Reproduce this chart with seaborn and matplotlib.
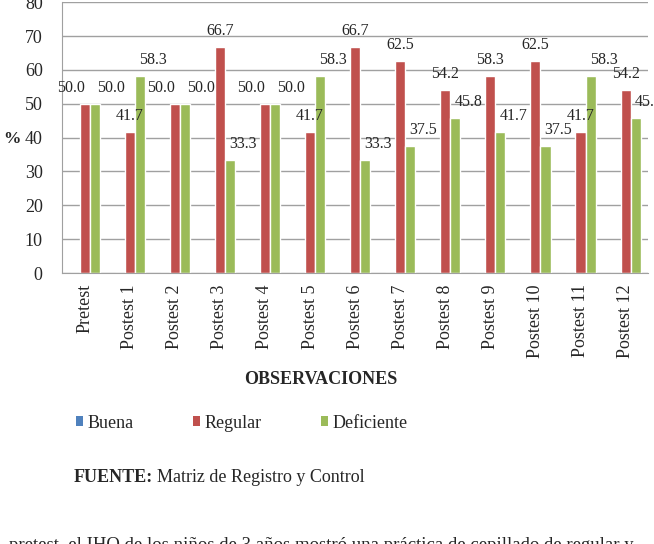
import pandas as pd
import matplotlib.pyplot as plt
import seaborn as sns
import numpy as np
from matplotlib.patches import Patch

# datos del grafico
observaciones = ['Pretest', 'Postest 1', 'Postest 2', 'Postest 3', 'Postest 4', 'Postest 5',
                 'Postest 6', 'Postest 7', 'Postest 8', 'Postest 9', 'Postest 10',
                 'Postest 11', 'Postest 12']
buena = [0, 0, 0, 0, 0, 0, 0, 0, 0, 0, 0, 0, 0]
regular = [50.0, 41.7, 50.0, 66.7, 50.0, 41.7, 66.7, 62.5, 54.2, 58.3, 62.5, 41.7, 54.2]
deficiente = [50.0, 58.3, 50.0, 33.3, 50.0, 58.3, 33.3, 37.5, 45.8, 41.7, 37.5, 58.3, 45.8]
niveles = ['Buena', 'Regular', 'Deficiente']
colores = ['#4F81BD', '#C0504D', '#9BBB59']

data = pd.DataFrame({
    'obs': observaciones * 3,
    'nivel': np.repeat(niveles, len(observaciones)),
    'pct': buena + regular + deficiente,
})

sns.set_style('white')
plt.rcParams['font.family'] = ['Liberation Serif', 'DejaVu Serif']

fig = plt.figure(figsize=(6.54, 5.44), dpi=100)
ax = fig.add_axes([0.095, 0.498, 0.896, 0.498])

sns.barplot(data=data, x='obs', y='pct', hue='nivel', hue_order=niveles,
            palette=colores, width=0.67, saturation=1, legend=False, ax=ax)

ax.set_ylim(0, 80)
ax.set_yticks(range(0, 81, 10))
ax.set_xlim(-0.5, len(observaciones) - 0.5)
ax.yaxis.grid(True, color='#a0a0a0', linewidth=1)
ax.set_axisbelow(True)
for s in ['top', 'right']:
    ax.spines[s].set_visible(False)
ax.spines['left'].set_color('#a0a0a0')
ax.spines['bottom'].set_color('#a0a0a0')
ax.set_xlabel('')
ax.set_ylabel('')
ax.tick_params(axis='y', labelsize=13, length=0, pad=14)
ax.tick_params(axis='x', labelsize=13, length=0, rotation=90, pad=8)
ax.set_xticks(np.arange(-0.5, len(observaciones), 1), minor=True)
ax.tick_params(axis='x', which='minor', length=5, color='#a0a0a0')

# etiquetas de datos (las de Buena no se muestran)
reg_bars = ax.containers[1]
def_bars = ax.containers[2]
for i, (rb, db) in enumerate(zip(reg_bars, def_bars)):
    r, d = regular[i], deficiente[i]
    igual = r == d
    rx = rb.get_x() + rb.get_width() / 2
    dx = db.get_x() + db.get_width() / 2
    ax.annotate(f'{r:.1f}', (rx, r), xytext=(-14 if igual else 0, 8),
                textcoords='offset pixels', ha='center', va='bottom', fontsize=11.5)
    ax.annotate(f'{d:.1f}', (dx, d), xytext=(16 if igual else 13, 8),
                textcoords='offset pixels', ha='center', va='bottom', fontsize=11.5)

fig.text(12 / 654, 1 - 139 / 544, '%', fontsize=12.5, fontweight='bold', ha='center', va='center')
fig.text(321 / 654, 1 - 380 / 544, 'OBSERVACIONES', fontsize=13, fontweight='bold',
         ha='center', va='center')

handles = [Patch(facecolor=c, edgecolor='none') for c in colores]
fig.legend(handles, niveles, loc='center left', bbox_to_anchor=(60 / 654, 1 - 423 / 544),
           ncol=3, frameon=False, fontsize=13, handlelength=0.4, handleheight=0.4,
           handletextpad=0.22, columnspacing=3.3)

t1 = fig.text(74 / 654, 1 - 478 / 544, 'FUENTE:', fontsize=13, fontweight='bold',
              ha='left', va='center')
fig.canvas.draw()
bb = t1.get_window_extent()
fig.text((bb.x1 + 4) / 654, 1 - 478 / 544, 'Matriz de Registro y Control', fontsize=13,
         ha='left', va='center')

fig.text(9 / 654, 1 - 537 / 544,
         'pretest, el IHO de los niños de 3 años mostró una práctica de cepillado de regular y',
         fontsize=13.5, ha='left', va='top')

fig.savefig('out.png', dpi=100)
